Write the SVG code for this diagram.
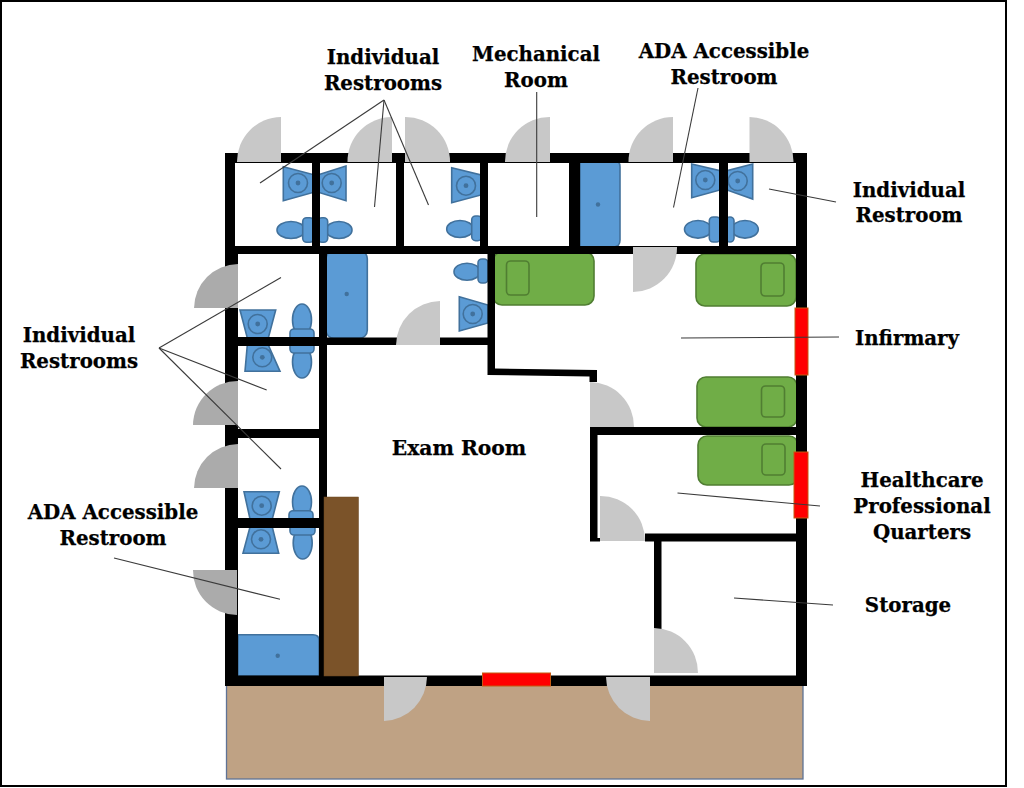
<svg xmlns="http://www.w3.org/2000/svg" width="1024" height="788" viewBox="0 0 1024 788">
<style>
.fx{fill:#5b9bd5;stroke:#41719c;stroke-width:1.6}
.ring{fill:none;stroke:#41719c;stroke-width:1.6}
.dot{fill:#41719c}
.bed{fill:#70ad47;stroke:#507e32;stroke-width:1.6}
.wall{fill:#000}
.door{fill:#c8c8c8}
.door2{fill:#ababab}
.win{fill:#ff0000;stroke:#c55a11;stroke-width:1}
.lead{stroke:#3a3a3a;stroke-width:1.1;fill:none}
text{font-family:"DejaVu Serif","Liberation Serif",serif;font-weight:bold;font-size:19.8px;fill:#000;stroke:#000;stroke-width:0.25;text-anchor:middle}
</style>
<defs>
<g id="r"><circle r="9.5" class="ring"/><circle r="2.4" class="dot"/></g>
</defs>
<rect width="1024" height="788" fill="#fff"/>
<rect x="1" y="1" width="1005" height="785" fill="#fff" stroke="#000" stroke-width="2"/>
<rect id="porch" x="226.500" y="684" width="576.500" height="95" fill="#bfa284" stroke="#5f7396" stroke-width="1.300"/>
<g id="beds">
<rect class="bed" x="493" y="252" width="101" height="53" rx="9"/><rect class="bed" x="506.500" y="261" width="22.500" height="34" rx="4"/>
<rect class="bed" x="696" y="254" width="100" height="52" rx="9"/><rect class="bed" x="761" y="263" width="23" height="33" rx="4"/>
<rect class="bed" x="697" y="377" width="100" height="50" rx="9"/><rect class="bed" x="761.500" y="386" width="23" height="31" rx="4"/>
<rect class="bed" x="698" y="436" width="100" height="49" rx="9"/><rect class="bed" x="762" y="444" width="23" height="31" rx="4"/>
</g>
<g id="fixtures">
<rect class="fx" x="326" y="250.700" width="41.300" height="87.600" rx="8"/><circle class="dot" cx="346.700" cy="294" r="2.200"/>
<path class="fx" d="M580 160H613Q620 160 620 167V240Q620 247 613 247H580Z"/><circle class="dot" cx="598" cy="204.500" r="2.200"/>
<path class="fx" d="M238 634.700H313Q319 634.700 319 640V676H238Z"/><circle class="dot" cx="277.700" cy="655.700" r="2.200"/>
<polygon class="fx" points="283.300,166.700 313,174.500 313,192.500 283.300,200.700"/><use href="#r" x="298" y="183"/>
<polygon class="fx" points="346,166 319,174.500 319,192.500 346,200.700"/><use href="#r" x="331.700" y="183"/>
<polygon class="fx" points="451.700,167.700 481,175 481,195 451.700,202.700"/><use href="#r" x="466" y="185.700"/>
<polygon class="fx" points="459.300,296.700 488,305 488,323 459.300,331"/><use href="#r" x="472.700" y="314"/>
<polygon class="fx" points="691.700,164 720,170.700 720,190 691.700,197.700"/><use href="#r" x="705.300" y="180"/>
<polygon class="fx" points="752.700,164 727,170.700 727,190 752.700,199"/><use href="#r" x="737.700" y="181"/>
<polygon class="fx" points="240,310 275.700,310 268.300,338 247.300,338"/><use href="#r" x="257.700" y="324"/>
<polygon class="fx" points="247.300,345 268.300,345 280,371.300 245,371.300"/><use href="#r" x="262.300" y="357.300"/>
<polygon class="fx" points="244,491.700 279.300,491.700 272.300,519 250,519"/><use href="#r" x="261.700" y="505.700"/>
<polygon class="fx" points="250,527 272.300,527 278.700,553.300 243,553.300"/><use href="#r" x="261" y="539.300"/>
<ellipse class="fx" cx="291" cy="230" rx="14" ry="8.500"/><rect class="fx" x="302.700" y="217.700" width="11" height="24.600" rx="4"/>
<ellipse class="fx" cx="339" cy="230" rx="13" ry="8.500"/><rect class="fx" x="318" y="217.700" width="9.700" height="24.600" rx="4"/>
<ellipse class="fx" cx="460" cy="229" rx="13.300" ry="8.500"/><rect class="fx" x="471.700" y="216" width="10" height="24.700" rx="4"/>
<ellipse class="fx" cx="467" cy="271.700" rx="13" ry="8.500"/><rect class="fx" x="478" y="259" width="10" height="24" rx="4"/>
<ellipse class="fx" cx="698" cy="229.300" rx="13.500" ry="8.800"/><rect class="fx" x="709.300" y="217" width="11" height="25" rx="4"/>
<ellipse class="fx" cx="745" cy="229.300" rx="13.300" ry="8.800"/><rect class="fx" x="726" y="217" width="8" height="25" rx="4"/>
<ellipse class="fx" cx="302" cy="320" rx="9.500" ry="16"/><rect class="fx" x="290" y="329" width="24" height="12" rx="4"/>
<ellipse class="fx" cx="302" cy="362" rx="9.500" ry="16"/><rect class="fx" x="290" y="341" width="24" height="12" rx="4"/>
<ellipse class="fx" cx="302" cy="502" rx="9.500" ry="16"/><rect class="fx" x="289" y="510.700" width="24" height="12" rx="4"/>
<ellipse class="fx" cx="302.700" cy="543" rx="9.500" ry="16"/><rect class="fx" x="290" y="523" width="25" height="12" rx="4"/>
</g>
<g id="walls">
<rect class="wall" x="225" y="153" width="582" height="10"/>
<rect class="wall" x="225" y="153" width="10" height="95"/>
<rect class="wall" x="225" y="246" width="13" height="440"/>
<rect class="wall" x="796" y="153" width="11" height="533"/>
<rect class="wall" x="225" y="675.500" width="582" height="10.500"/>
<rect class="wall" x="225" y="246" width="582" height="8"/>
<rect class="wall" x="312" y="163" width="8" height="85"/>
<rect class="wall" x="396" y="163" width="8" height="85"/>
<rect class="wall" x="480" y="163" width="8" height="85"/>
<rect class="wall" x="569" y="163" width="11" height="85"/>
<rect class="wall" x="719" y="163" width="9" height="85"/>
<rect class="wall" x="319" y="254" width="8" height="243"/>
<rect class="wall" x="319" y="497" width="6" height="180"/>
<rect class="wall" x="238" y="337" width="89" height="9"/>
<rect class="wall" x="327" y="337.500" width="161" height="7.500"/>
<rect class="wall" x="238" y="429" width="89" height="9"/>
<rect class="wall" x="238" y="518" width="84" height="10"/>
<path class="wall" d="M487.500 250H495V368.500L597 370V382H589.500V376.500L487.500 375Z"/>
<rect class="wall" x="590" y="427" width="207" height="8"/>
<rect class="wall" x="590" y="427" width="7.500" height="114"/>
<rect class="wall" x="590" y="538" width="10" height="3.500"/>
<rect class="wall" x="645" y="533.500" width="152" height="8"/>
<rect class="wall" x="654" y="541" width="7.500" height="88"/>
</g>
<rect id="cabinet" x="324" y="497" width="34.500" height="179" fill="#7b5329" stroke="#6b4722" stroke-width="0.500"/>
<g id="windows">
<rect class="win" x="482.500" y="673" width="68" height="13"/>
<rect class="win" x="795" y="308" width="13" height="67"/>
<rect class="win" x="794" y="452" width="14" height="66"/>
</g>
<g id="doors">
<path class="door" d="M281 162V117A44.500 44.500 0 0 0 237 162Z"/>
<path class="door" d="M392 162V117A44.500 44.500 0 0 0 347.500 162Z"/>
<path class="door" d="M405 162V117A44.500 44.500 0 0 1 450 162Z"/>
<path class="door" d="M550 162V117A44.500 44.500 0 0 0 505 162Z"/>
<path class="door" d="M673 162V117A44.500 44.500 0 0 0 628.500 162Z"/>
<path class="door" d="M749.500 162V117A44.500 44.500 0 0 1 793.500 162Z"/>
<path class="door" d="M633 247H677A44.500 44.500 0 0 1 633 292Z"/>
<path class="door" d="M440 345V301A44.500 44.500 0 0 0 396 345Z"/>
<path class="door2" d="M238 308V264A44.500 44.500 0 0 0 194 308Z"/>
<path class="door2" d="M238 425V381A44.500 44.500 0 0 0 193 425Z"/>
<path class="door2" d="M238 488V444A44.500 44.500 0 0 0 194 488Z"/>
<path class="door2" d="M237 570H193A44.500 44.500 0 0 0 237 615Z"/>
<path class="door" d="M590 427V382A44.500 44.500 0 0 1 634 427Z"/>
<path class="door" d="M600 541V496A44.500 44.500 0 0 1 645 541Z"/>
<path class="door" d="M654 673V628A44.500 44.500 0 0 1 698 673Z"/>
<path class="door" d="M650 677H606A44.500 44.500 0 0 0 650 721Z"/>
<path class="door" d="M384 677H427A44.500 44.500 0 0 1 384 721Z"/>
</g>
<g id="connectors">
<line class="lead" x1="384" y1="100" x2="260" y2="183"/>
<line class="lead" x1="384" y1="100" x2="374.500" y2="207"/>
<line class="lead" x1="384" y1="100" x2="428.500" y2="205"/>
<line class="lead" x1="536.700" y1="92" x2="536.700" y2="217"/>
<line class="lead" x1="698" y1="88" x2="673.500" y2="207.500"/>
<line class="lead" x1="769" y1="189" x2="836" y2="202"/>
<line class="lead" x1="681" y1="338" x2="839" y2="337"/>
<line class="lead" x1="677.500" y1="493" x2="820" y2="506"/>
<line class="lead" x1="734" y1="598" x2="833" y2="605"/>
<line class="lead" x1="159" y1="348" x2="281" y2="277.500"/>
<line class="lead" x1="159" y1="348" x2="266.700" y2="390"/>
<line class="lead" x1="159" y1="348" x2="281" y2="469"/>
<line class="lead" x1="114" y1="558" x2="280" y2="599.300"/>
</g>
<g id="labels">
<text x="383" y="64">Individual</text><text x="383" y="90">Restrooms</text>
<text x="536" y="61">Mechanical</text><text x="536" y="87">Room</text>
<text x="724" y="58">ADA Accessible</text><text x="724" y="84">Restroom</text>
<text x="909" y="197">Individual</text><text x="909" y="222">Restroom</text>
<text x="907" y="345">Infirmary</text>
<text x="922" y="487">Healthcare</text><text x="922" y="513">Professional</text><text x="922" y="539">Quarters</text>
<text x="908" y="612">Storage</text>
<text x="459" y="455" style="font-size:20.3px">Exam Room</text>
<text x="79" y="342">Individual</text><text x="79" y="368">Restrooms</text>
<text x="113" y="519">ADA Accessible</text><text x="113" y="545">Restroom</text>
</g>
</svg>
